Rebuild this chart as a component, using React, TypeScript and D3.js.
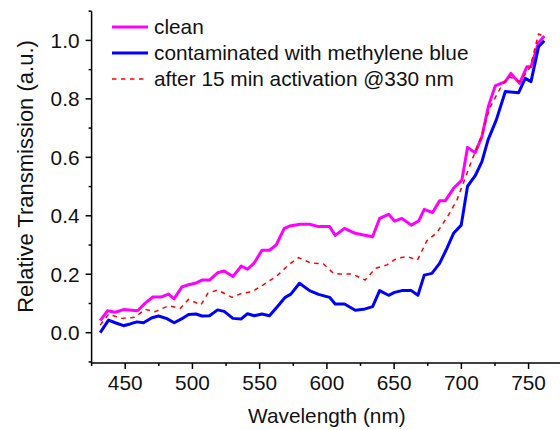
import React from "react";
import * as d3 from "d3";

// Transmission spectra (wavelength in nm, relative transmission)
const cleanWl = [431.4, 436.8, 442.6, 448.7, 459.1, 464.9, 470.6, 476.6, 482.2, 486.4, 492.2, 497.1, 502.1, 507.1, 512.7, 518.7, 523.6, 530.1, 536.3, 541.0, 546.0, 551.7, 557.3, 562.3, 568.3, 572.2, 580.2, 587.1, 593.8, 602.0, 606.2, 613.1, 621.1, 627.3, 634.0, 639.2, 645.9, 650.3, 655.8, 662.8, 668.2, 672.4, 678.6, 683.8, 688.0, 694.2, 700.4, 704.6, 710.3, 715.3, 720.2, 725.2, 732.7, 736.9, 743.3, 748.8, 751.8, 757.4, 761.7];
const cleanVal = [0.041, 0.075, 0.070, 0.079, 0.075, 0.101, 0.122, 0.122, 0.132, 0.116, 0.157, 0.164, 0.169, 0.180, 0.180, 0.205, 0.211, 0.192, 0.228, 0.217, 0.239, 0.282, 0.282, 0.300, 0.357, 0.365, 0.371, 0.371, 0.363, 0.363, 0.333, 0.357, 0.340, 0.334, 0.328, 0.391, 0.405, 0.382, 0.391, 0.368, 0.382, 0.422, 0.411, 0.451, 0.451, 0.494, 0.522, 0.634, 0.616, 0.671, 0.776, 0.844, 0.859, 0.887, 0.853, 0.910, 0.910, 0.992, 1.015];

const mbWl = [431.4, 437.6, 442.6, 448.7, 453.7, 458.7, 463.6, 469.9, 474.8, 481.0, 486.4, 492.2, 497.1, 502.6, 507.1, 512.7, 518.7, 523.6, 530.1, 536.3, 541.0, 546.0, 551.7, 557.3, 562.8, 569.0, 573.2, 579.6, 587.1, 593.8, 602.0, 606.2, 613.1, 621.1, 627.3, 634.0, 639.2, 645.9, 650.3, 655.8, 662.8, 667.7, 672.4, 678.1, 683.8, 689.3, 694.2, 699.9, 704.6, 710.3, 715.3, 719.8, 726.0, 732.7, 742.6, 747.5, 751.8, 757.4, 761.7];
const mbVal = [0.000, 0.043, 0.034, 0.024, 0.030, 0.037, 0.034, 0.051, 0.057, 0.048, 0.034, 0.048, 0.062, 0.064, 0.057, 0.058, 0.078, 0.073, 0.049, 0.047, 0.065, 0.058, 0.064, 0.058, 0.087, 0.121, 0.132, 0.169, 0.144, 0.131, 0.121, 0.098, 0.098, 0.077, 0.080, 0.089, 0.144, 0.128, 0.138, 0.144, 0.144, 0.128, 0.197, 0.203, 0.237, 0.289, 0.340, 0.368, 0.501, 0.537, 0.585, 0.659, 0.728, 0.825, 0.821, 0.870, 0.859, 0.978, 0.999];

const actWl = [431.4, 437.6, 447.5, 457.4, 464.9, 472.3, 482.2, 490.9, 497.1, 506.3, 511.5, 518.7, 529.4, 536.8, 544.2, 552.4, 562.8, 571.5, 578.9, 587.6, 597.5, 604.9, 609.9, 618.6, 628.5, 636.0, 644.7, 652.1, 659.5, 667.4, 674.4, 681.8, 690.5, 696.7, 700.4, 707.9, 715.3, 721.0, 728.9, 735.1, 743.8, 751.3, 757.4, 761.7];
const actVal = [0.026, 0.063, 0.049, 0.053, 0.080, 0.072, 0.092, 0.083, 0.114, 0.095, 0.135, 0.146, 0.121, 0.135, 0.140, 0.163, 0.194, 0.232, 0.257, 0.239, 0.235, 0.203, 0.201, 0.201, 0.180, 0.220, 0.232, 0.255, 0.260, 0.249, 0.315, 0.342, 0.403, 0.454, 0.499, 0.591, 0.676, 0.768, 0.836, 0.876, 0.859, 0.910, 1.022, 1.013];

const xMajorTicks = [450, 500, 550, 600, 650, 700, 750];
const xMinorTicks = [425, 475, 525, 575, 625, 675, 725, 775];
const yMajorTicks = [0.0, 0.2, 0.4, 0.6, 0.8, 1.0];
const yMinorTicks = [-0.1, 0.1, 0.3, 0.5, 0.7, 0.9, 1.1];

const seriesNames = [
  "clean",
  "contaminated with methylene blue",
  "after 15 min activation @330 nm",
];

const FONT = "'Liberation Sans', Arial, sans-serif";

export default function App() {
  const x = d3.scaleLinear().domain([425, 775]).range([91.6, 562.2]);
  const y = d3.scaleLinear().domain([0, 1]).range([332.7, 40.4]);
  const yBottom = y(-0.1035);
  const yTop = y(1.1);

  const line = d3
    .line<[number, number]>()
    .x((d) => x(d[0]))
    .y((d) => y(d[1]));

  const zip = (w: number[], v: number[]) => w.map((d, i) => [d, v[i]] as [number, number]);

  const series = [
    { name: seriesNames[0], data: zip(cleanWl, cleanVal), color: "#ff00ff", width: 3, dash: undefined },
    { name: seriesNames[1], data: zip(mbWl, mbVal), color: "#0000ff", width: 3, dash: undefined },
    { name: seriesNames[2], data: zip(actWl, actVal), color: "#ff0000", width: 1.5, dash: "4.5,4.5" },
  ];

  const axisColor = "#000";
  const fs = 20.8;

  return (
    <svg
      width={560}
      height={430}
      style={{ position: "absolute", left: 0, top: 0, background: "#fff" }}
      fontFamily={FONT}
    >
      {/* plotted series */}
      {series.map((s) => (
        <path
          key={s.name}
          d={line(s.data) || ""}
          fill="none"
          stroke={s.color}
          strokeWidth={s.width}
          strokeDasharray={s.dash}
          strokeLinejoin="round"
        />
      ))}

      {/* y axis */}
      <line x1={x(425)} x2={x(425)} y1={yTop} y2={yBottom} stroke={axisColor} strokeWidth={1.5} />
      {yMajorTicks.map((t) => (
        <g key={"ym" + t}>
          <line x1={x(425) - 6} x2={x(425)} y1={y(t)} y2={y(t)} stroke={axisColor} strokeWidth={1.5} />
          <text x={79.5} y={y(t)} dy="0.36em" textAnchor="end" fontSize={fs} fill="#111">
            {t.toFixed(1)}
          </text>
        </g>
      ))}
      {yMinorTicks.map((t) => (
        <line key={"yn" + t} x1={x(425) - 3} x2={x(425)} y1={y(t)} y2={y(t)} stroke={axisColor} strokeWidth={1.5} />
      ))}

      {/* x axis */}
      <line x1={x(425)} x2={560} y1={yBottom} y2={yBottom} stroke={axisColor} strokeWidth={1.5} />
      {xMajorTicks.map((t) => (
        <g key={"xm" + t}>
          <line x1={x(t)} x2={x(t)} y1={yBottom} y2={yBottom + 6} stroke={axisColor} strokeWidth={1.5} />
          <text x={x(t)} y={390} textAnchor="middle" fontSize={fs} fill="#111">
            {t}
          </text>
        </g>
      ))}
      {xMinorTicks.map((t) => (
        <line key={"xn" + t} x1={x(t)} x2={x(t)} y1={yBottom} y2={yBottom + 3} stroke={axisColor} strokeWidth={1.5} />
      ))}

      {/* axis titles */}
      <text x={x(600)} y={423} textAnchor="middle" fontSize={fs} fill="#111">
        Wavelength (nm)
      </text>
      <text
        transform={`translate(32.5,176.5) rotate(-90)`}
        textAnchor="middle"
        fontSize={22}
        fill="#111"
      >
        Relative Transmission (a.u.)
      </text>

      {/* legend */}
      {series.map((s, i) => {
        const ly = 27 + i * 26;
        return (
          <g key={"lg" + s.name}>
            <line
              x1={112}
              x2={148}
              y1={ly}
              y2={ly}
              stroke={s.color}
              strokeWidth={s.width}
              strokeDasharray={s.dash}
            />
            <text x={154} y={ly} dy="0.36em" fontSize={fs} fill="#111">
              {s.name}
            </text>
          </g>
        );
      })}
    </svg>
  );
}
